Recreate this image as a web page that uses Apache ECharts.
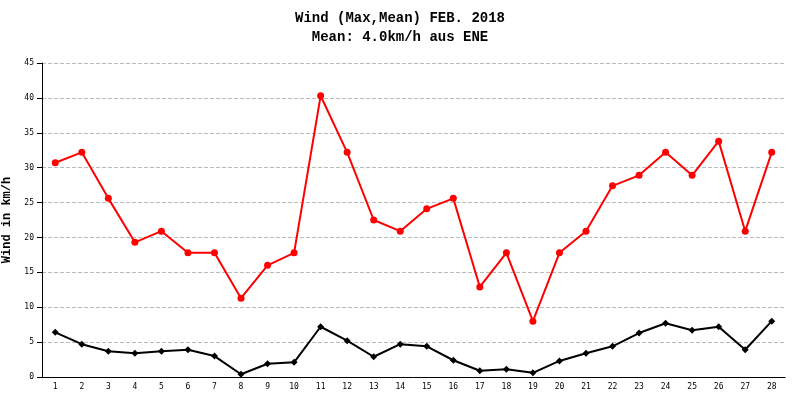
<!DOCTYPE html>
<html><head><meta charset="utf-8">
<script src="https://cdn.jsdelivr.net/npm/echarts@6/dist/echarts.min.js"></script>
<style>html,body{margin:0;padding:0;background:#fff}#c{width:800px;height:400px}</style>
</head><body><div id="c"></div>
<script>
const categories = Array.from({length:28},(_, i)=>String(i+1));
const maxWind = [30.7,32.2,25.6,19.3,20.9,17.8,17.8,11.3,16.0,17.8,40.3,32.2,22.5,20.9,24.1,25.6,12.9,17.8,8.0,17.8,20.9,27.4,28.9,32.2,28.9,33.8,20.9,32.2];
const meanWind = [6.4,4.7,3.7,3.4,3.7,3.9,3.0,0.4,1.9,2.1,7.2,5.2,2.9,4.7,4.4,2.4,0.9,1.1,0.6,2.3,3.4,4.4,6.3,7.7,6.7,7.2,3.9,8.0];
const chart = echarts.init(document.getElementById('c'));
chart.setOption({
  animation:false,
  title:{text:'Wind (Max,Mean) FEB. 2018\nMean: 4.0km/h aus ENE',left:'center',top:4,
    textStyle:{fontFamily:'Liberation Mono',fontSize:14,fontWeight:'bold',color:'#000',lineHeight:19}},
  grid:{left:42,right:15,top:63,bottom:23,containLabel:false,outerBoundsMode:'none'},
  xAxis:{type:'category',data:categories,boundaryGap:true,
    axisLine:{lineStyle:{color:'#000'}},axisTick:{alignWithLabel:true,lineStyle:{color:'#000'}},
    axisLabel:{fontFamily:'DejaVu Sans Mono',fontSize:8,color:'#000',margin:6}},
  yAxis:{type:'value',min:0,max:45,interval:5,name:'Wind in km/h',nameLocation:'middle',nameGap:24,
    nameTextStyle:{fontFamily:'Liberation Mono',fontWeight:'bold',fontSize:12,color:'#000'},
    axisLine:{show:true,lineStyle:{color:'#000'}},axisTick:{show:true,lineStyle:{color:'#000'}},
    axisLabel:{fontFamily:'DejaVu Sans Mono',fontSize:8,color:'#000'},
    splitLine:{lineStyle:{color:'#bbb',type:'dashed'}}},
  series:[
    {type:'line',data:maxWind,symbol:'circle',symbolSize:7,color:'#f00',lineStyle:{width:2,color:'#f00'},itemStyle:{color:'#f00'}},
    {type:'line',data:meanWind,symbol:'diamond',symbolSize:7,color:'#000',lineStyle:{width:2,color:'#000'},itemStyle:{color:'#000'}}
  ]
});
</script></body></html>
